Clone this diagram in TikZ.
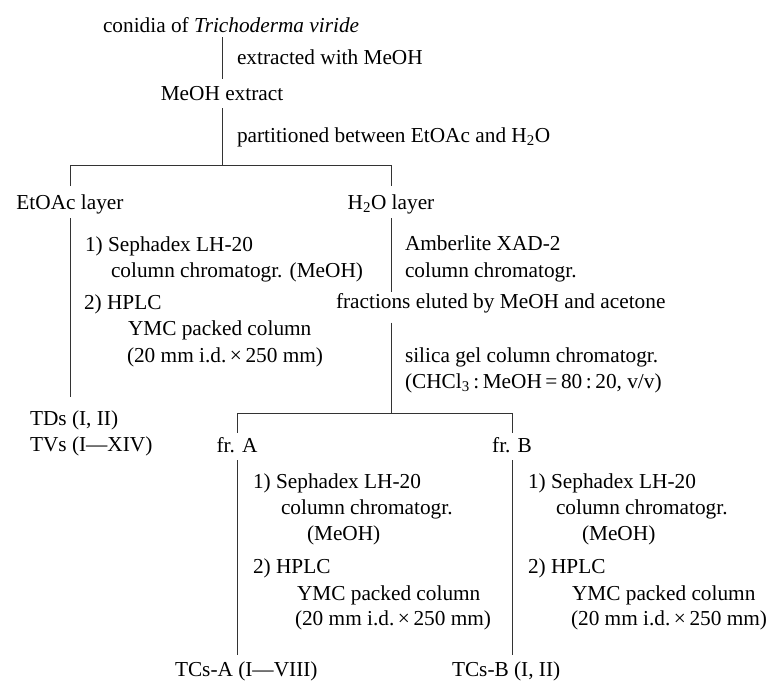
\documentclass[tikz,border=0pt]{standalone}
\usepackage{fontspec}
\setmainfont{Liberation Serif}
\usetikzlibrary{calc}
\begin{document}
\begin{tikzpicture}[x=1pt,y=-1pt,
  every node/.style={inner sep=0pt,outer sep=0pt,font=\fontsize{21.3pt}{25pt}\selectfont},
  tl/.style={anchor=base west},
  tc/.style={anchor=base},
  ln/.style={line width=0.9pt,draw=black!80}]
\useasboundingbox (0,0) rectangle (768,680);
% top part
\node[tl] (conidia) at (103,32) {conidia of \textit{Trichoderma viride}};
\node[tl] (extr) at (237,64) {extracted with MeOH};
\node[tc] (meoh) at (222,100) {MeOH extract};
\node[tl] (part) at (237,142) {partitioned between EtOAc and H\textsubscript{2}O};
\node[tc] (etoac) at (70,209) {EtOAc layer};
\node[tc] (h2o) at (391,209) {H\textsubscript{2}O layer};
% EtOAc branch
\node[tl] (la1) at (85,251) {1) Sephadex LH-20};
\node[tl] (la2) at (111,277) {column chromatogr. (MeOH)};
\node[tl] (la3) at (84,309) {2) HPLC};
\node[tl] (la4) at (128,335) {YMC packed column};
\node[tl] (la5) at (127,362) {(20 mm i.d.\,×\,250 mm)};
\node[tl] (tds) at (30,425) {TDs (I, II)};
\node[tl] (tvs) at (30,451) {TVs (I—XIV)};
% H2O branch
\node[tl] (amb1) at (405,250) {Amberlite XAD-2};
\node[tl] (amb2) at (405,277) {column chromatogr.};
\node[tl] (fract) at (336,308) {fractions eluted by MeOH and acetone};
\node[tl] (sil1) at (405,362) {silica gel column chromatogr.};
\node[tl] (sil2) at (405,388) {(CHCl\textsubscript{3}\,:\,MeOH\,=\,80\,:\,20, v/v)};
\node[tc] (fra) at (237,452) {fr. A};
\node[tc] (frb) at (512,452) {fr. B};
% fr. A
\node[tl] (a1) at (253,488) {1) Sephadex LH-20};
\node[tl] (a2) at (281,514) {column chromatogr.};
\node[tl] (a3) at (307,540) {(MeOH)};
\node[tl] (a4) at (253,573) {2) HPLC};
\node[tl] (a5) at (297,600) {YMC packed column};
\node[tl] (a6) at (295,625) {(20 mm i.d.\,×\,250 mm)};
\node[tl] (tcsa) at (175,676) {TCs-A (I—VIII)};
% fr. B
\node[tl] (b1) at (528,488) {1) Sephadex LH-20};
\node[tl] (b2) at (556,514) {column chromatogr.};
\node[tl] (b3) at (582,540) {(MeOH)};
\node[tl] (b4) at (528,573) {2) HPLC};
\node[tl] (b5) at (572,600) {YMC packed column};
\node[tl] (b6) at (571,625) {(20 mm i.d.\,×\,250 mm)};
\node[tl] (tcsb) at (452,676) {TCs-B (I, II)};
% connectors
\coordinate (s1) at (222,165);
\coordinate (s2) at (391,413);
\draw[ln] ($(conidia.south -| meoh.north)+(0,5)$) -- ($(meoh.north)+(0,-7)$);
\draw[ln] ($(meoh.south)+(0,8)$) -- (s1);
\draw[ln] ($(etoac.north)+(0,-8)$) -- (etoac.north |- s1) -- (h2o.north |- s1) -- ($(h2o.north)+(0,-8)$);
\draw[ln] ($(etoac.south)+(0,4.5)$) -- ($(tds.north -| etoac.south)+(0,-13)$);
\draw[ln] ($(h2o.south)+(0,4.5)$) -- ($(fract.north -| h2o.south)+(0,-1.5)$);
\draw[ln] ($(fract.south -| h2o.south)+(0,10)$) -- (s2);
\draw[ln] ($(fra.north)+(0,-4.5)$) -- (fra.north |- s2) -- (frb.north |- s2) -- ($(frb.north)+(0,-4.5)$);
\draw[ln] ($(fra.south)+(0,8)$) -- ($(tcsa.north -| fra.south)+(0,-6.5)$);
\draw[ln] ($(frb.south)+(0,8)$) -- ($(tcsb.north -| frb.south)+(0,-6.5)$);
\end{tikzpicture}
\end{document}
